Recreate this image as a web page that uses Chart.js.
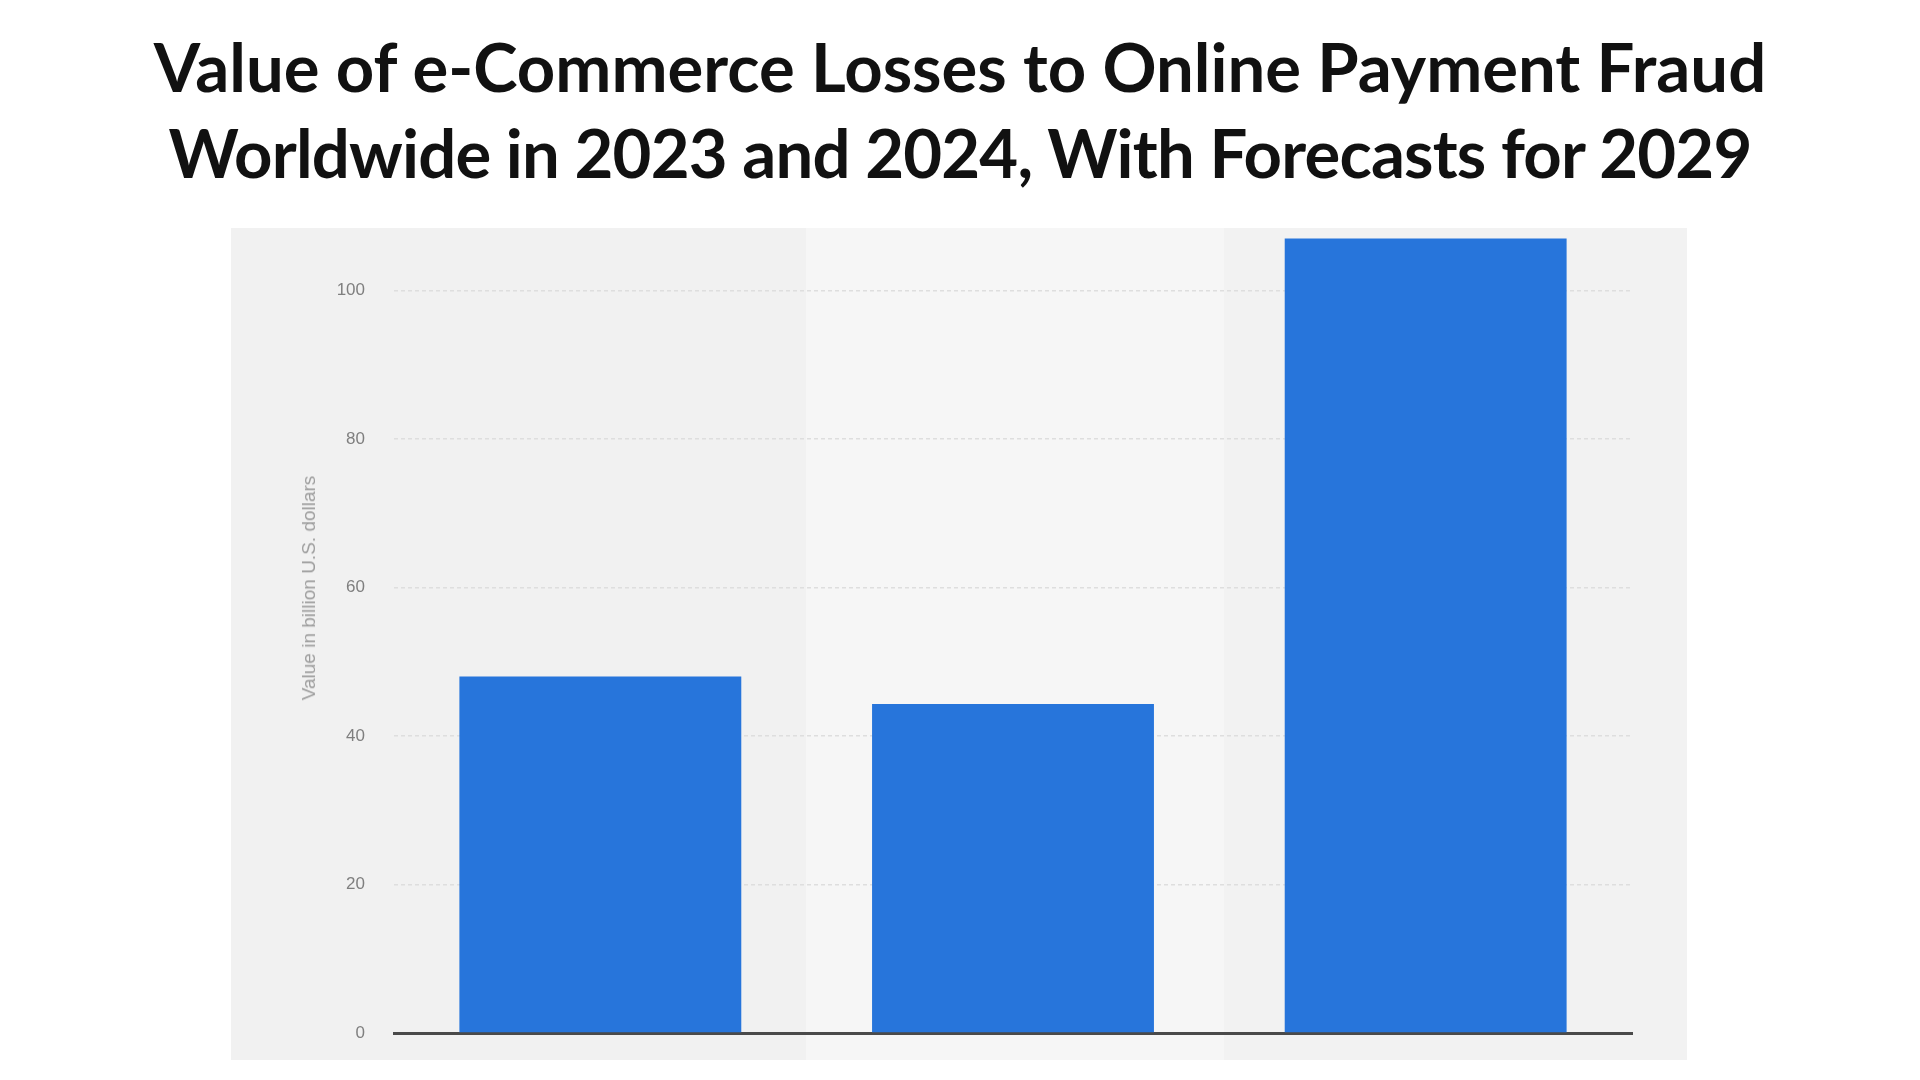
<!DOCTYPE html>
<html>
<head>
<meta charset="utf-8">
<script src="https://cdn.jsdelivr.net/npm/chart.js@4"></script>
<style>
  html, body { margin: 0; padding: 0; background: #ffffff; width: 1920px; height: 1080px; overflow: hidden; }
  #title {
    position: absolute; left: 0; top: 23px; width: 1920px; text-align: center;
    font-family: Lato, "Open Sans", sans-serif; font-weight: 700; font-size: 67px;
    line-height: 86px; color: #111111;
  }
  #title .l2 { letter-spacing: -0.8px; }
  #panel {
    position: absolute; left: 231px; top: 228px; width: 1456px; height: 832px;
    background: linear-gradient(to right, #f1f1f1 0%, #f1f1f1 39.5%, #f6f6f6 39.5%, #f6f6f6 68.2%, #f2f2f2 68.2%, #f2f2f2 100%);
  }
  #chart { position: absolute; left: 0; top: 0; }
  #ytitle {
    position: absolute; left: 309px; top: 588px; transform: translate(-50%, -50%) rotate(-90deg);
    white-space: nowrap; font-family: "Liberation Sans", Arial, sans-serif; font-size: 19px; color: #9d9d9d;
  }
</style>
</head>
<body>
<div id="title">Value of e-Commerce Losses to Online Payment Fraud<br><span class="l2">Worldwide in 2023 and 2024, With Forecasts for 2029</span></div>
<div id="panel"><canvas id="chart" width="1456" height="832"></canvas></div>
<div id="ytitle">Value in billion U.S. dollars</div>
<script>
const categories = ["2023", "2024", "2029*"];
const lossValues = [48, 44.3, 107];
const yTickValues = [0, 20, 40, 60, 80, 100];
const yAxisTitle = "Value in billion U.S. dollars";

const ctx = document.getElementById('chart').getContext('2d');
new Chart(ctx, {
  type: 'bar',
  data: {
    labels: categories,
    datasets: [{
      label: yAxisTitle,
      data: lossValues,
      backgroundColor: '#2775db',
      borderWidth: 0,
      categoryPercentage: 0.9,
      barPercentage: 0.759
    }]
  },
  options: {
    responsive: false,
    animation: false,
    devicePixelRatio: 1,
    layout: { padding: { left: 0, right: 55, top: 3, bottom: 27 } },
    plugins: { legend: { display: false }, tooltip: { enabled: false }, title: { display: false } },
    scales: {
      x: {
        display: true,
        ticks: { display: false },
        grid: { display: false, drawTicks: false },
        border: { display: true, color: '#4a4a4a', width: 3 },
        afterFit: (axis) => { axis.height = 0; axis.paddingLeft = 0; axis.paddingRight = 0; }
      },
      y: {
        min: 0,
        max: 108,
        afterBuildTicks: (axis) => { axis.ticks = yTickValues.map(v => ({ value: v })); },
        afterFit: (axis) => { axis.width = 163; axis.paddingTop = 0; axis.paddingBottom = 0; },
        ticks: {
          padding: 29,
          color: '#7f7f7f',
          font: { family: '"Liberation Sans", Arial, sans-serif', size: 17 }
        },
        grid: {
          drawTicks: false,
          color: (c) => c.tick && c.tick.value === 0 ? 'rgba(0,0,0,0)' : '#dedede',
          lineWidth: 1.5
        },
        border: { display: false, dash: [4, 3] }
      }
    }
  }
});
</script>
</body>
</html>
